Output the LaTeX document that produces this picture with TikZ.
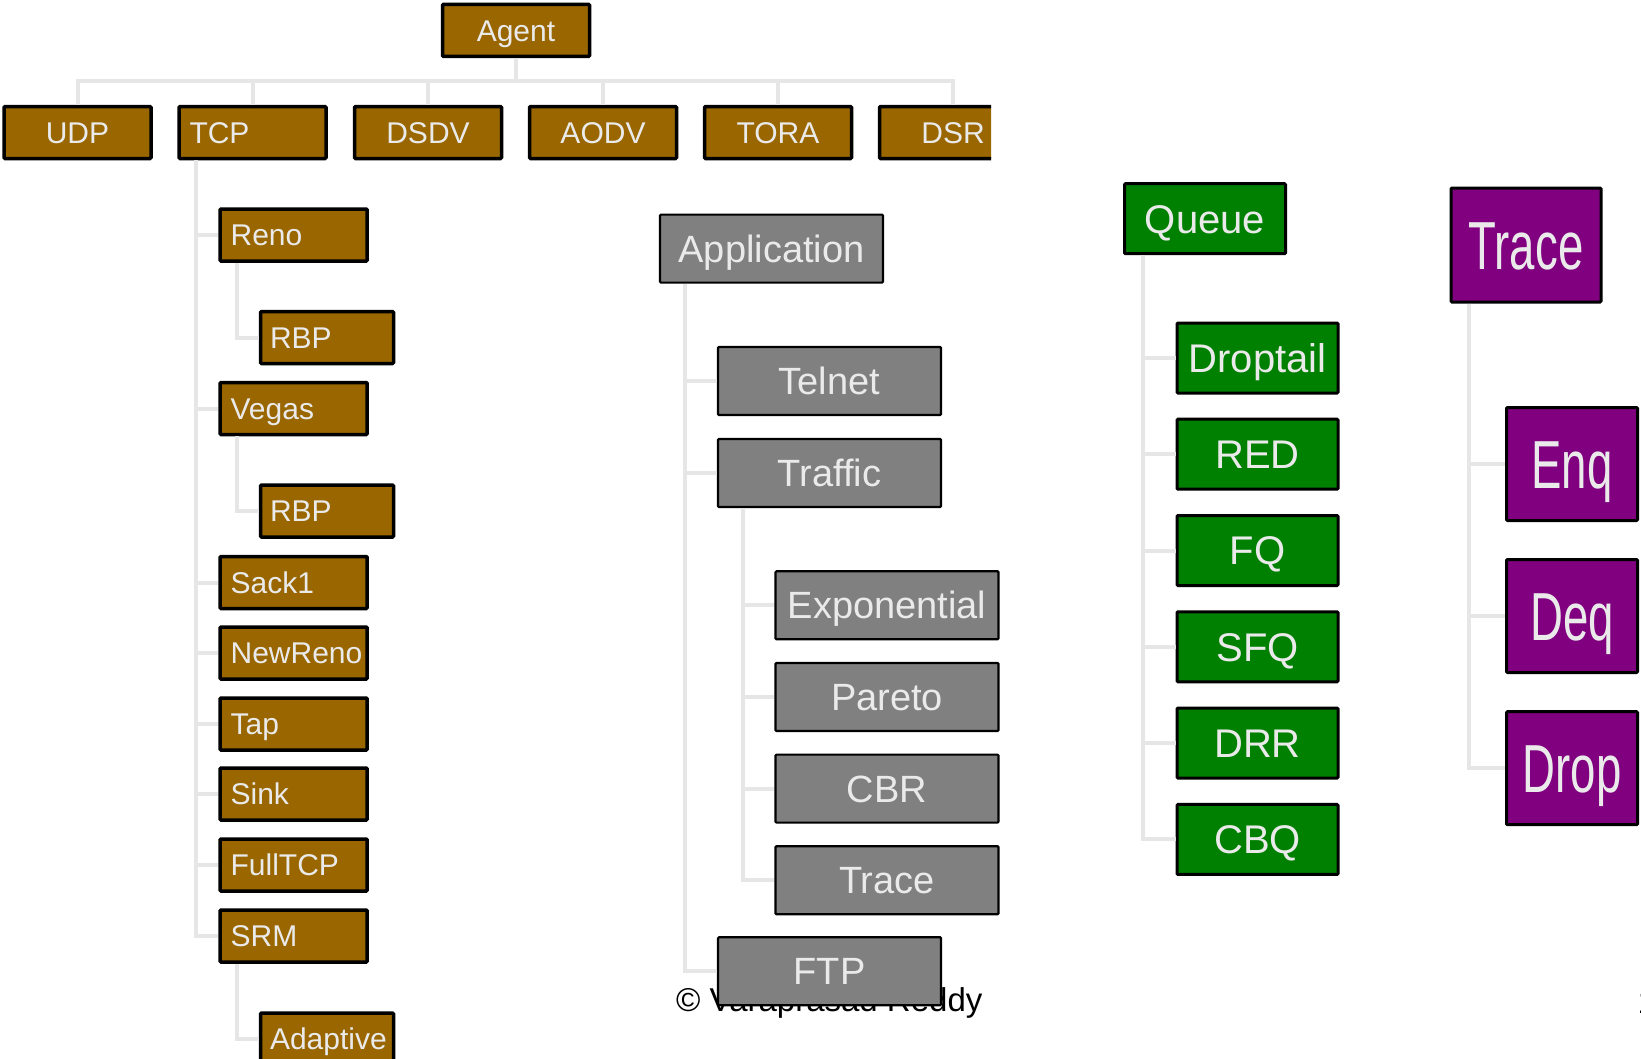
\documentclass[tikz,border=0pt]{standalone}
\usepackage{fontspec}
\setmainfont{Liberation Sans}
\definecolor{agentbrown}{RGB}{153,102,0}
\definecolor{qgreen}{RGB}{0,128,0}
\definecolor{tpurple}{RGB}{128,0,128}
\definecolor{appgray}{RGB}{128,128,128}
\definecolor{boxtext}{RGB}{234,234,234}
\definecolor{treeline}{RGB}{230,230,230}
% condensed lettering for the trace boxes
\newcommand\condensed[1]{\scalebox{0.67}[1]{#1}}

\begin{document}
\begin{tikzpicture}[x=1pt,y=-1pt,
  conn/.style={draw=treeline, line width=4pt},
  box/.style={draw=black, rectangle, inner sep=0pt, text=boxtext, rounded corners=1pt},
  agentbox/.style={box, fill=agentbrown, line width=3.5pt, minimum width=147pt, minimum height=52pt,
    font=\fontsize{30}{36}\selectfont, text height=21.5pt, text depth=0pt},
  leftbox/.style={agentbox, text width=126pt, align=left},
  subbox/.style={leftbox, minimum width=133pt, text width=114pt},
  appbox/.style={box, fill=appgray, line width=2.2pt, minimum width=223pt, minimum height=68pt,
    font=\fontsize{38}{46}\selectfont, text height=27.2pt, text depth=0pt},
  qbox/.style={box, fill=qgreen, line width=3pt, minimum width=161pt, minimum height=70pt,
    font=\fontsize{40}{48}\selectfont, text height=28.6pt, text depth=0pt},
  tbox/.style={box, fill=tpurple, line width=3pt, minimum width=131pt, minimum height=113pt,
    font=\fontsize{68}{80}\selectfont, text height=48.7pt, text depth=0pt}
]
\useasboundingbox (0,0) rectangle (1641,1058);
\clip (0,0) rectangle (1641,1058);

% ---------------- Agent tree ----------------
\node[agentbox] (agent) at (516,30.3) {Agent};
\coordinate (bus) at (516,80.6);
\node[agentbox] (udp)  at (77.5,132.5) {UDP};
\node[leftbox]  (tcp)  at (252.5,132.5) {TCP};
\node[agentbox] (dsdv) at (428,132.5) {DSDV};
\node[agentbox] (aodv) at (603,132.5) {AODV};
\node[agentbox] (tora) at (778,132.5) {TORA};
\begin{scope}
  \clip (0,0) rectangle (991,1058);
  \node[agentbox] (dsr) at (953,132.5) {DSR};
\end{scope}
\foreach \c in {udp,tcp,dsdv,aodv,tora,dsr}
  \draw[conn] (agent.south) -- (bus) -| (\c.north);

% TCP variants
\node[leftbox] (reno)    at (293.6,235)   {Reno};
\node[subbox]  (rbpa)    at (327,337.5)   {RBP};
\node[leftbox] (vegas)   at (293.6,408.5) {Vegas};
\node[subbox]  (rbpb)    at (327,511)     {RBP};
\node[leftbox] (sack)    at (293.6,582.5) {Sack1};
\node[leftbox] (newreno) at (293.6,653)   {NewReno};
\node[leftbox] (tap)     at (293.6,724)   {Tap};
\node[leftbox] (sink)    at (293.6,794)   {Sink};
\node[leftbox] (fulltcp) at (293.6,865)   {FullTCP};
\node[leftbox] (srm)     at (293.6,936)   {SRM};
\node[subbox]  (adapt)   at (327,1039)    {Adaptive};
\foreach \c in {reno,vegas,sack,newreno,tap,sink,fulltcp,srm}
  \draw[conn] ([xshift=18.7pt]tcp.south west) |- (\c.west);
\draw[conn] ([xshift=19pt]reno.south west) |- (rbpa.west);
\draw[conn] ([xshift=19pt]vegas.south west) |- (rbpb.west);
\draw[conn] ([xshift=19pt]srm.south west) |- (adapt.west);

% ---------------- Application tree ----------------
\node[anchor=base west, inner sep=0pt, font=\fontsize{33}{40}\selectfont] (copy) at (676,1011) {© Varaprasad Reddy};
\node[appbox] (app)     at (771.5,248.6) {Application};
\node[appbox] (telnet)  at (829.5,381)   {Telnet};
\node[appbox] (traffic) at (829.5,473)   {Traffic};
\node[appbox] (expo)    at (887,605.3)   {Exponential};
\node[appbox] (pareto)  at (887,697)     {Pareto};
\node[appbox] (cbr)     at (887,788.6)   {CBR};
\node[appbox] (gtrace)  at (887,880.2)   {Trace};
\node[appbox] (ftp)     at (829.5,971.3) {FTP};
\foreach \c in {telnet,traffic,ftp}
  \draw[conn] ([xshift=26.5pt]app.south west) |- (\c.west);
\foreach \c in {expo,pareto,cbr,gtrace}
  \draw[conn] ([xshift=26pt]traffic.south west) |- (\c.west);

% ---------------- Queue tree ----------------
\node[qbox] (queue)    at (1205,218.7)  {Queue};
\node[qbox] (droptail) at (1257.5,358)  {Droptail};
\node[qbox] (red)      at (1257.5,454.2) {RED};
\node[qbox] (fq)       at (1257.5,550.5) {FQ};
\node[qbox] (sfq)      at (1257.5,646.8) {SFQ};
\node[qbox] (drr)      at (1257.5,743)  {DRR};
\node[qbox] (cbq)      at (1257.5,839.4) {CBQ};
\foreach \c in {droptail,red,fq,sfq,drr,cbq}
  \draw[conn] ([xshift=20pt]queue.south west) |- (\c.west);

% ---------------- Trace tree ----------------
\node[tbox, minimum width=150pt, minimum height=114pt] (ttrace) at (1526,245) {\condensed{Trace}};
\node[tbox] (enq)  at (1572,464)   {\condensed{Enq}};
\node[tbox] (deq)  at (1572,616)   {\condensed{Deq}};
\node[tbox] (drop) at (1572,768.2) {\condensed{Drop}};
\foreach \c in {enq,deq,drop}
  \draw[conn] ([xshift=19pt]ttrace.south west) |- (\c.west);

% page number
\node[anchor=base west, inner sep=0pt, font=\fontsize{33}{40}\selectfont] (pnum) at (1637.5,1013.6) {1};
\end{tikzpicture}
\end{document}
